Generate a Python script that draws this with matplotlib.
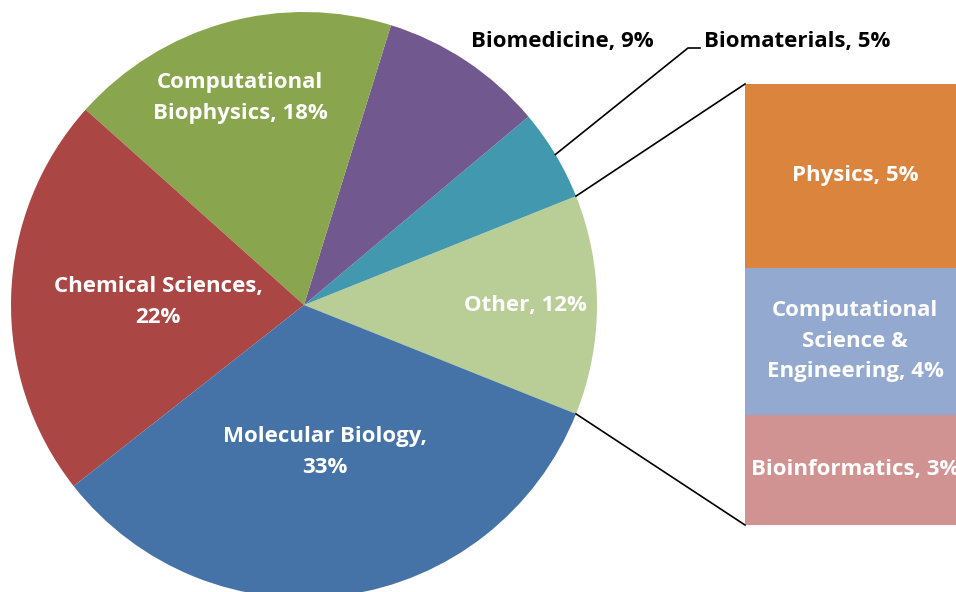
import matplotlib
matplotlib.use('Agg')
import matplotlib.pyplot as plt
import numpy as np

# main pie, counterclockwise starting from the "Other" slice
pie_labels = ['Other, 12%', 'Biomaterials, 5%', 'Biomedicine, 9%',
              'Computational\nBiophysics, 18%', 'Chemical Sciences,\n22%',
              'Molecular Biology,\n33%']
pie_values = [12, 5, 9, 18, 22, 33]
pie_colors = ['#B9CD96', '#4198AF', '#71588F', '#89A54E', '#AA4643', '#4572A7']

# breakdown of "Other", top to bottom
bar_labels = ['Physics, 5%', 'Computational\nScience &\nEngineering, 4%', 'Bioinformatics, 3%']
bar_values = [5, 4, 3]
bar_colors = ['#DB843D', '#93A9CF', '#D19392']

W, H = 956, 592
fig = plt.figure(figsize=(W / 100, H / 100), dpi=100)
ax = fig.add_axes([0, 0, 1, 1])

plt.rcParams['font.family'] = ['Open Sans', 'DejaVu Sans']
fs = 16
ls = 1.6

cx, cy, r = 304, H - 305, 293
total = sum(pie_values)
start = -pie_values[0] / total * 360 / 2
wedges, _ = ax.pie(pie_values, colors=pie_colors, startangle=start, counterclock=True,
                   radius=r, center=(cx, cy), frame=True,
                   wedgeprops=dict(linewidth=0))
ax.set_xlim(0, W)
ax.set_ylim(0, H)
ax.set_aspect('auto')
ax.axis('off')

# labels inside the pie
inner = {0: (525, 306), 3: (240, 98), 4: (158, 302), 5: (325, 452)}
for i, (x, y) in inner.items():
    ax.text(x, H - y, pie_labels[i], color='white', fontsize=fs, fontweight='bold',
            ha='center', va='center', linespacing=ls)

# outside labels
ax.text(562, H - 41, pie_labels[2], color='black', fontsize=fs, fontweight='bold',
        ha='center', va='center')
ax.text(704, H - 41, pie_labels[1], color='black', fontsize=fs, fontweight='bold',
        ha='left', va='center')
ang = np.deg2rad(start + (pie_values[0] + pie_values[1] / 2) / total * 360)
ax.plot([cx + r * np.cos(ang), 688, 700], [cy + r * np.sin(ang), H - 48, H - 48],
        color='black', lw=1.2)

# stacked bar for the breakdown
bx, bw, btop, bbot = 745, 220, H - 84, H - 525
scale = (btop - bbot) / sum(bar_values)
bottom = bbot
for lab, v, c in reversed(list(zip(bar_labels, bar_values, bar_colors))):
    h = v * scale
    ax.bar(bx, h, width=bw, bottom=bottom, color=c, align='edge', linewidth=0)
    ax.text(bx + bw / 2, bottom + h / 2, lab, color='white', fontsize=fs,
            fontweight='bold', ha='center', va='center', linespacing=ls)
    bottom += h

# connector lines
a1 = np.deg2rad(start + pie_values[0] / total * 360)
a0 = np.deg2rad(start)
ax.plot([cx + r * np.cos(a1), bx], [cy + r * np.sin(a1), btop], color='black', lw=1.2)
ax.plot([cx + r * np.cos(a0), bx], [cy + r * np.sin(a0), bbot], color='black', lw=1.2)

fig.savefig('out.png', dpi=100)
